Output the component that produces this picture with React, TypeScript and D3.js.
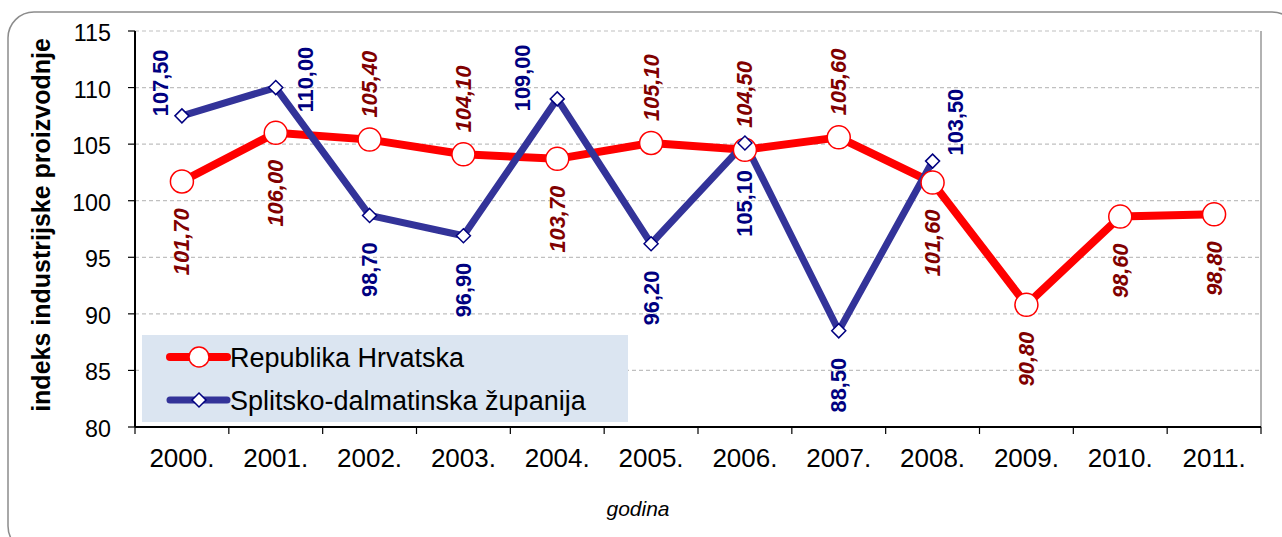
import React from "react";
import * as d3 from "d3";

const years = ["2000.", "2001.", "2002.", "2003.", "2004.", "2005.", "2006.", "2007.", "2008.", "2009.", "2010.", "2011."];
const hrvatska = [101.7, 106.0, 105.4, 104.1, 103.7, 105.1, 104.5, 105.6, 101.6, 90.8, 98.6, 98.8];
const splitsko = [107.5, 110.0, 98.7, 96.9, 109.0, 96.2, 105.1, 88.5, 103.5];
const yTicks = [80, 85, 90, 95, 100, 105, 110, 115];
const seriesNames = ["Republika Hrvatska", "Splitsko-dalmatinska županija"];
// label placement per point
const hrvPos = ["below", "below", "above", "above", "below", "above", "above", "above", "below", "below", "below", "below"];
const splPos = ["left", "right", "below", "below", "left", "below", "below", "below", "right"];
// nudges for side labels [dx, dy]
const splNudge: Record<number, [number, number]> = { 0: [-21, -33], 1: [30, -8], 4: [-35, -21], 8: [23, -39] };

const FONT = "'Liberation Sans', Arial, sans-serif";
const W = 1282, H = 537;
const m = { left: 135, right: 1261, top: 31, bottom: 427 };

const fmt = (v: number) => v.toFixed(2).replace(".", ",");

export default function App() {
  const x = d3.scaleBand<string>().domain(years).range([m.left, m.right]).padding(0);
  const y = d3.scaleLinear().domain([80, 115]).range([m.bottom, m.top]);
  const cx = (i: number) => (x(years[i]) as number) + x.bandwidth() / 2;
  const line = d3.line<number>().x((_, i) => cx(i)).y((d) => y(d));
  const diamond = (s: number) => `M0,${-s}L${s},0L0,${s}L${-s},0Z`;

  const label = (v: number, i: number, pos: string, color: string, italic: boolean, nudge?: [number, number]) => {
    const px = cx(i), py = y(v);
    let ax = px, ay = py, anchor = "middle";
    if (pos === "above") { ay = py - 22; anchor = "start"; }
    else if (pos === "below") { ay = py + 27; anchor = "end"; }
    else if (nudge) { ax = px + nudge[0]; ay = py + nudge[1]; }
    return (
      <text key={`${color}-${i}`} transform={`translate(${ax},${ay}) rotate(-90)`} textAnchor={anchor}
        dominantBaseline="central" fontFamily={FONT} fontWeight="bold" fontStyle={italic ? "italic" : "normal"}
        fontSize={21.8} fill={color}>{fmt(v)}</text>
    );
  };

  return (
    <svg width={W} height={H} style={{ position: "absolute", left: 0, top: 0, background: "#fff" }}>
      <rect x={8} y={12} width={1290} height={540} rx={26} fill="#fff" stroke="#8c8c8c" strokeWidth={1.5} />
      {/* gridlines */}
      {yTicks.filter((t) => t > 80).map((t) => (
        <line key={t} x1={m.left} x2={m.right} y1={y(t)} y2={y(t)} stroke="#c0c0c0" strokeWidth={1.2} strokeDasharray="4,3" />
      ))}
      <line x1={m.right} x2={m.right} y1={m.top} y2={m.bottom} stroke="#999" strokeWidth={1.5} />
      {/* axes */}
      <line x1={m.left} x2={m.left} y1={m.top} y2={m.bottom} stroke="#000" strokeWidth={2} />
      <line x1={m.left} x2={m.right} y1={m.bottom} y2={m.bottom} stroke="#000" strokeWidth={2} />
      {yTicks.map((t) => (
        <g key={t}>
          <line x1={m.left - 7} x2={m.left} y1={y(t)} y2={y(t)} stroke="#000" strokeWidth={1.2} />
          <text x={111} y={y(t) + 2} textAnchor="end" dominantBaseline="central" fontFamily={FONT} fontSize={23.3} fill="#000">{t}</text>
        </g>
      ))}
      {years.map((yr, i) => (
        <g key={yr}>
          <line x1={x(yr) as number} x2={x(yr) as number} y1={m.bottom} y2={m.bottom + 7} stroke="#000" strokeWidth={1.2} />
          <text x={cx(i)} y={467} textAnchor="middle" fontFamily={FONT} fontSize={26} fill="#000">{yr}</text>
        </g>
      ))}
      <line x1={m.right} x2={m.right} y1={m.bottom} y2={m.bottom + 7} stroke="#000" strokeWidth={1.2} />
      <text transform={`translate(41,225) rotate(-90)`} textAnchor="middle" dominantBaseline="central" fontFamily={FONT} fontWeight="bold" fontSize={25} fill="#000">indeks industrijske proizvodnje</text>
      <text x={638} y={516} textAnchor="middle" fontFamily={FONT} fontStyle="italic" fontSize={21} fill="#000">godina</text>

      {/* series lines */}
      <path d={line(hrvatska) as string} fill="none" stroke="#ff0000" strokeWidth={8} strokeLinejoin="round" />
      <path d={line(splitsko) as string} fill="none" stroke="#333399" strokeWidth={7} strokeLinejoin="miter" />
      {hrvatska.map((v, i) => (
        <circle key={`c${i}`} cx={cx(i)} cy={y(v)} r={11.5} fill="#fff" stroke="#ff0000" strokeWidth={1.5} />
      ))}
      {splitsko.map((v, i) => (
        <path key={`d${i}`} d={diamond(7)} transform={`translate(${cx(i)},${y(v)})`} fill="#fff" stroke="#000080" strokeWidth={1.5} />
      ))}
      {/* labels */}
      {hrvatska.map((v, i) => label(v, i, hrvPos[i], "#800000", true))}
      {splitsko.map((v, i) => label(v, i, splPos[i], "#000080", false, splNudge[i]))}

      {/* legend */}
      <rect x={142} y={335} width={486} height={87} fill="#dbe5f1" />
      <line x1={170} x2={227} y1={357} y2={357} stroke="#ff0000" strokeWidth={8} strokeLinecap="round" />
      <circle cx={199} cy={357} r={10} fill="#fff" stroke="#ff0000" strokeWidth={1.5} />
      <text x={230} y={358} dominantBaseline="central" fontFamily={FONT} fontSize={27} fill="#000">{seriesNames[0]}</text>
      <line x1={170} x2={227} y1={400} y2={400} stroke="#333399" strokeWidth={7} strokeLinecap="round" />
      <path d={diamond(7)} transform="translate(199,400)" fill="#fff" stroke="#000080" strokeWidth={1.5} />
      <text x={230} y={401} dominantBaseline="central" fontFamily={FONT} fontSize={27} fill="#000">{seriesNames[1]}</text>
    </svg>
  );
}
